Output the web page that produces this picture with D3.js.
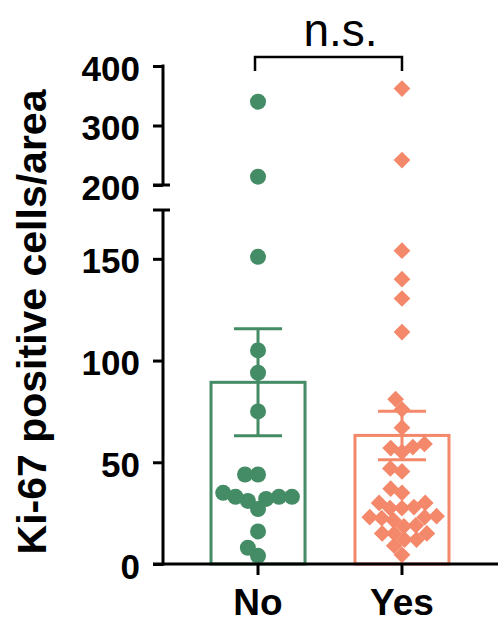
<!DOCTYPE html>
<html>
<head>
<meta charset="utf-8">
<script src="https://cdn.jsdelivr.net/npm/d3@7"></script>
<style>
  html, body { margin: 0; padding: 0; background: #fff; }
  svg { display: block; font-family: "Liberation Sans", Arial, Helvetica, sans-serif; }
</style>
</head>
<body>
<svg id="chart" width="498" height="625"></svg>
<script>
// Groups and per-animal Ki-67 counts
const categories = ["No", "Yes"];
const noValues = [340, 214, 151, 105, 94, 75, 44, 44, 35, 33, 33, 33, 32, 31, 27, 16, 8, 4];
const yesValues = [362, 242, 154, 140, 130.5, 114, 81, 76, 67, 59, 57.5, 57, 55, 47, 45.5,
                   37, 35, 30, 30, 28, 27.5, 27.5, 23.5, 23, 23, 22.5, 21.5, 19, 18.5,
                   15, 15, 15, 12, 12, 9, 4.5];
// Bar height (mean) and error bar half-length (SEM) per group
const barMeans = [89.3, 63.2];
const barSems = [26.3, 11.9];
// Broken y axis: lower and upper segments
const lowerDomain = [0, 174];
const upperDomain = [200, 400];
const lowerTicks = [0, 50, 100, 150];
const upperTicks = [200, 300, 400];
const yLabel = "Ki-67 positive cells/area";
const sigLabel = "n.s.";

const colors = ["#438c65", "#f4886a"];
const svg = d3.select("#chart");

const axisX = 163;
const x = d3.scalePoint().domain(categories).range([axisX, 497]).padding(0.66);
const yLow = d3.scaleLinear().domain(lowerDomain).range([564, 210]);
const yUp = d3.scaleLinear().domain(upperDomain).range([185, 66]);
const yPos = v => (v >= upperDomain[0] ? yUp(v) : yLow(v));

const barWidth = 94;

// Bars (open, coloured outline)
svg.append("g").selectAll("rect")
  .data(categories)
  .join("rect")
  .attr("x", d => x(d) - barWidth / 2)
  .attr("y", (d, i) => yLow(barMeans[i]))
  .attr("width", barWidth)
  .attr("height", (d, i) => yLow(0) - yLow(barMeans[i]))
  .attr("fill", "#fff")
  .attr("stroke", (d, i) => colors[i])
  .attr("stroke-width", 3);

// Beeswarm placement: each point takes the free x offset closest to the centre
function swarm(values, minDist) {
  const pts = values.map(v => ({ v, y: yPos(v), dx: 0 })).sort((a, b) => a.v - b.v);
  const placed = [];
  pts.forEach(p => {
    const cands = [0];
    placed.forEach(q => {
      const dy = Math.abs(q.y - p.y);
      if (dy < minDist) {
        const d = Math.sqrt(minDist * minDist - dy * dy);
        cands.push(q.dx + d, q.dx - d);
      }
    });
    cands.sort((a, b) => Math.abs(a) - Math.abs(b) || a - b);
    for (const c of cands) {
      const ok = placed.every(q => {
        const ddx = q.dx - c, ddy = q.y - p.y;
        return ddx * ddx + ddy * ddy >= minDist * minDist - 0.01;
      });
      if (ok) { p.dx = c; break; }
    }
    placed.push(p);
  });
  return pts;
}

const noPts = swarm(noValues, 13);
const yesPts = swarm(yesValues, 12);

svg.append("g").selectAll("circle")
  .data(noPts)
  .join("circle")
  .attr("cx", d => x("No") + d.dx)
  .attr("cy", d => d.y)
  .attr("r", 8)
  .attr("fill", colors[0]);

const diamond = d3.symbol().type(d3.symbolSquare).size(140);
svg.append("g").selectAll("path")
  .data(yesPts)
  .join("path")
  .attr("d", diamond)
  .attr("transform", d => `translate(${x("Yes") + d.dx},${d.y}) rotate(45)`)
  .attr("fill", colors[1]);

// Error bars (mean ± SEM)
const capHalf = 24;
const eb = svg.append("g");
categories.forEach((c, i) => {
  const cx = x(c);
  const top = yLow(barMeans[i] + barSems[i]);
  const bot = yLow(barMeans[i] - barSems[i]);
  eb.append("line").attr("x1", cx).attr("x2", cx).attr("y1", top).attr("y2", bot)
    .attr("stroke", colors[i]).attr("stroke-width", 3);
  [top, bot].forEach(yy => {
    eb.append("line").attr("x1", cx - capHalf).attr("x2", cx + capHalf)
      .attr("y1", yy).attr("y2", yy)
      .attr("stroke", colors[i]).attr("stroke-width", 3);
  });
});

// Y axis, two segments
const tickStyle = g => {
  g.select(".domain").remove();
  g.selectAll(".tick line").attr("stroke", "#000").attr("stroke-width", 3);
  g.selectAll(".tick text")
    .attr("font-size", 35).attr("font-weight", "bold").attr("fill", "#000")
    .attr("x", -23).attr("dy", "0.4em");
};
svg.append("g").attr("transform", `translate(${axisX},0)`)
  .call(d3.axisLeft(yLow).tickValues(lowerTicks).tickSize(10).tickPadding(4))
  .call(tickStyle);
svg.append("g").attr("transform", `translate(${axisX},0)`)
  .call(d3.axisLeft(yUp).tickValues(upperTicks).tickSize(10).tickPadding(4))
  .call(tickStyle);

const axisG = svg.append("g").attr("stroke", "#000").attr("stroke-width", 3);
axisG.append("line").attr("x1", axisX).attr("x2", axisX)
  .attr("y1", yLow(lowerDomain[1])).attr("y2", yLow(0) + 1.5);
axisG.append("line").attr("x1", axisX).attr("x2", axisX)
  .attr("y1", yUp(upperDomain[1]) - 1.5).attr("y2", yUp(upperDomain[0]));
// break marks at the segment ends
axisG.append("line").attr("x1", axisX - 10).attr("x2", axisX + 7)
  .attr("y1", yLow(lowerDomain[1])).attr("y2", yLow(lowerDomain[1]));
axisG.append("line").attr("x1", axisX - 10).attr("x2", axisX + 7)
  .attr("y1", yUp(upperDomain[0])).attr("y2", yUp(upperDomain[0]));

// X axis
axisG.append("line").attr("x1", axisX - 10).attr("x2", 498)
  .attr("y1", yLow(0)).attr("y2", yLow(0));
categories.forEach(c => {
  axisG.append("line").attr("x1", x(c)).attr("x2", x(c))
    .attr("y1", yLow(0)).attr("y2", yLow(0) + 11);
});
svg.append("g").selectAll("text")
  .data(categories)
  .join("text")
  .attr("x", d => x(d))
  .attr("y", 615)
  .attr("text-anchor", "middle")
  .attr("font-size", 37)
  .attr("font-weight", "bold")
  .text(d => d);

// Y axis title
svg.append("text")
  .attr("transform", "translate(46,322) rotate(-90)")
  .attr("text-anchor", "middle")
  .attr("font-size", 41)
  .attr("font-weight", "bold")
  .text(yLabel);

// Significance bracket
const bx1 = x("No") - 3, bx2 = x("Yes");
svg.append("path")
  .attr("d", `M${bx1},71 V57 H${bx2} V71`)
  .attr("fill", "none").attr("stroke", "#000").attr("stroke-width", 2.5);
svg.append("text")
  .attr("x", (bx1 + bx2) / 2 + 12)
  .attr("y", 46)
  .attr("text-anchor", "middle")
  .attr("font-size", 46)
  .text(sigLabel);
</script>
</body>
</html>
